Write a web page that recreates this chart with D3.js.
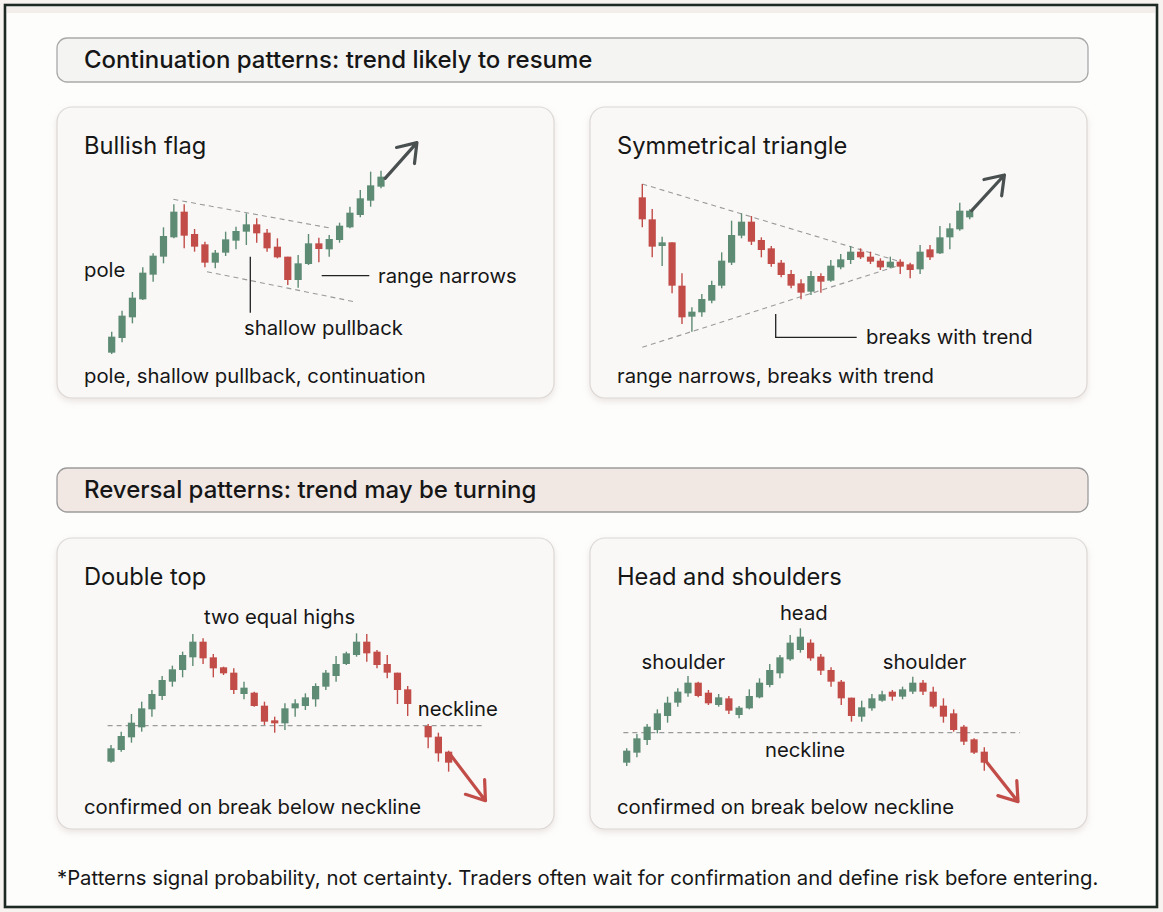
<!DOCTYPE html>
<html>
<head>
<meta charset="utf-8">
<script src="https://cdn.jsdelivr.net/npm/d3@7/dist/d3.min.js"></script>
<style>
  html, body { margin: 0; padding: 0; background: #ffffff; }
  svg { display: block; }
  text { font-family: Inter, "Noto Sans", sans-serif; fill: #161616; }
</style>
</head>
<body>
<svg id="chart" width="1163" height="912"></svg>
<script>
// ---------------- DATA ----------------
// Candles: [open, high, low, close] (arbitrary price units)
const flagCandles = [
  [2.2, 8.5, 1.8, 7.0], [6.6, 14.8, 5.3, 13.3], [12.8, 20.4, 11.0, 18.7], [18.2, 27.8, 18.0, 26.2],
  [25.6, 32.0, 23.5, 31.3], [31.0, 39.8, 29.0, 37.2], [36.8, 46.7, 36.5, 44.5], [44.5, 46.7, 33.5, 37.3],
  [37.8, 39.3, 32.5, 34.0], [34.7, 35.5, 27.8, 29.2], [29.2, 33.0, 27.5, 32.2], [32.2, 38.5, 31.2, 36.2],
  [35.8, 40.0, 33.2, 38.7], [38.5, 44.0, 34.5, 40.7], [40.7, 42.5, 35.2, 38.0], [38.2, 39.3, 32.5, 33.5],
  [34.0, 36.5, 30.5, 30.8], [31.0, 31.0, 22.5, 24.0], [24.0, 31.5, 21.7, 29.0], [28.8, 37.8, 28.5, 35.0],
  [35.0, 36.7, 29.3, 33.3], [33.2, 37.5, 31.0, 36.3], [36.0, 41.2, 35.2, 40.3], [39.8, 46.0, 39.5, 44.2],
  [43.5, 51.0, 42.8, 48.5], [47.8, 56.5, 46.0, 52.4], [52.0, 56.8, 51.5, 55.0]
];
const triangleCandles = [
  [48.8, 52.8, 39.8, 42.2], [42.2, 45.3, 30.8, 34.0], [34.2, 37.0, 28.2, 35.3], [35.3, 35.3, 20.0, 22.3],
  [22.3, 26.0, 10.8, 12.8], [13.0, 15.8, 8.5, 14.5], [14.3, 19.8, 13.0, 18.3], [17.8, 23.8, 17.0, 22.5],
  [22.3, 32.3, 21.5, 29.8], [29.2, 41.8, 28.5, 37.5], [37.3, 44.0, 36.5, 41.5], [41.5, 43.2, 34.5, 35.5],
  [36.0, 36.8, 30.8, 33.0], [33.5, 34.2, 28.0, 28.8], [29.2, 30.0, 24.8, 25.5], [25.8, 27.0, 21.5, 22.3],
  [23.0, 24.2, 18.2, 20.2], [20.5, 26.7, 19.5, 25.2], [25.2, 26.0, 20.2, 23.5], [23.8, 30.0, 23.5, 28.3],
  [27.8, 31.8, 27.2, 30.2], [30.0, 34.2, 28.8, 32.5], [32.5, 33.5, 30.3, 30.8], [31.0, 32.5, 28.8, 29.5],
  [29.8, 30.5, 27.0, 27.8], [27.8, 31.0, 27.5, 29.5], [29.5, 30.2, 25.8, 28.0], [28.7, 29.2, 24.5, 27.0],
  [27.2, 34.5, 25.8, 32.5], [33.2, 34.5, 30.0, 30.8], [32.0, 40.2, 31.8, 36.8], [36.8, 41.0, 33.2, 39.5],
  [39.2, 47.2, 38.8, 44.8], [42.8, 45.2, 42.2, 44.8]
];
// Double top: index 30 is left empty (gap behind the "neckline" label)
const doubleTopIndex = [0,1,2,3,4,5,6,7,8,9,10,11,12,13,14,15,16,17,18,19,20,21,22,23,24,25,26,27,28,29,31,32,33];
const doubleTopCandles = [
  [8.5, 13.5, 8.2, 12.5], [12.0, 17.5, 11.5, 16.2], [15.8, 22.8, 14.2, 20.2], [18.8, 26.5, 17.5, 24.5],
  [24.2, 30.0, 22.0, 28.8], [28.2, 34.2, 27.0, 33.0], [32.5, 37.3, 31.0, 36.2], [36.0, 41.5, 33.8, 40.5],
  [39.8, 46.8, 37.2, 44.5], [44.5, 45.5, 37.8, 39.5], [39.8, 40.8, 33.8, 36.5], [36.8, 37.0, 34.5, 35.0],
  [35.2, 36.5, 28.8, 30.0], [28.8, 32.5, 27.2, 30.7], [29.2, 29.5, 25.0, 25.2], [25.3, 26.5, 19.5, 20.5],
  [20.9, 22.0, 17.2, 20.0], [20.0, 26.0, 18.0, 24.5], [24.5, 27.2, 22.0, 26.0], [25.2, 29.0, 24.0, 27.8],
  [27.2, 32.0, 25.0, 31.2], [31.0, 36.0, 30.0, 35.2], [34.2, 40.2, 32.5, 37.8], [37.8, 41.5, 37.5, 41.0],
  [40.5, 47.0, 40.0, 44.5], [44.5, 46.8, 38.5, 41.0], [41.5, 42.0, 36.5, 37.5], [37.8, 40.5, 33.5, 35.2],
  [35.2, 35.2, 25.8, 30.0], [30.2, 31.2, 22.2, 25.8], [19.2, 19.8, 12.5, 15.8], [16.0, 17.2, 8.5, 11.0],
  [11.5, 11.8, 5.5, 8.2]
];
const headShouldersCandles = [
  [8.2, 12.5, 7.2, 11.8], [11.2, 16.8, 9.8, 15.5], [15.0, 19.8, 13.5, 19.0], [18.0, 24.2, 17.0, 23.0],
  [22.2, 28.0, 20.2, 26.2], [26.2, 30.5, 25.0, 29.5], [29.0, 34.2, 28.0, 32.2], [32.2, 32.5, 27.8, 28.2],
  [29.2, 30.0, 25.5, 26.0], [25.5, 28.8, 25.0, 27.8], [27.5, 28.2, 22.8, 23.8], [22.5, 25.2, 21.5, 24.7],
  [24.5, 30.2, 24.2, 28.2], [27.8, 33.5, 27.5, 32.2], [31.5, 37.8, 30.8, 36.0], [35.0, 40.5, 33.5, 39.8],
  [39.2, 46.5, 38.8, 44.2], [42.0, 48.5, 41.2, 46.0], [44.2, 45.2, 38.8, 39.5], [40.0, 40.8, 34.5, 35.8],
  [36.0, 36.8, 31.0, 32.5], [32.5, 33.0, 25.5, 27.5], [27.7, 27.7, 20.5, 22.2], [22.0, 26.8, 20.5, 24.8],
  [24.5, 28.8, 23.8, 27.5], [26.8, 29.8, 26.5, 28.7], [29.5, 30.0, 26.8, 28.0], [28.0, 31.0, 27.2, 30.2],
  [29.5, 34.0, 28.8, 32.2], [32.2, 33.0, 28.5, 29.5], [29.5, 31.0, 24.5, 25.0], [25.3, 27.5, 20.2, 22.0],
  [23.0, 24.2, 17.5, 18.0], [19.0, 19.5, 13.5, 14.5], [15.2, 15.5, 10.8, 11.2], [11.5, 12.8, 5.8, 8.2]
];

// Guide lines: [[index, price], [index, price]]
const flagUpper = [[5.95, 48.2], [21.26, 39.5]];
const flagLower = [[9.2, 26.5], [23.4, 17.5]];
const triangleUpper = [[0, 52.8], [26.0, 29.5]];
const triangleLower = [[0, 3.8], [26.0, 28.5]];
const doubleTopNeck = [[-0.33, 19.3], [36.5, 19.3]];
const headShouldersNeck = [[-0.33, 17.2], [38.5, 17.2]];

// Trend arrows: [[index, price], [index, price]]
const flagArrow = [[26.4, 54.5], [29.47, 65.2]];
const triangleArrow = [[33.2, 44.8], [36.5, 55.5]];
const doubleTopArrow = [[33.2, 10.5], [36.6, -3.2]];
const headShouldersArrow = [[35.2, 8.5], [38.3, -3.5]];

// Texts
const sectionTitles = ["Continuation patterns: trend likely to resume", "Reversal patterns: trend may be turning"];
const panelTitles = ["Bullish flag", "Symmetrical triangle", "Double top", "Head and shoulders"];
const panelCaptions = ["pole, shallow pullback, continuation", "range narrows, breaks with trend",
                       "confirmed on break below neckline", "confirmed on break below neckline"];
const footnote = "*Patterns signal probability, not certainty. Traders often wait for confirmation and define risk before entering.";

// ---------------- DRAW ----------------
const UP = "#5e8b73", DOWN = "#c24c47";
const svg = d3.select("#chart");

const defs = svg.append("defs");
const f = defs.append("filter").attr("id", "shadow").attr("x", "-5%").attr("y", "-5%").attr("width", "110%").attr("height", "120%");
f.append("feDropShadow").attr("dx", 0).attr("dy", 3).attr("stdDeviation", 3)
  .attr("flood-color", "#b9a49a").attr("flood-opacity", 0.28);

// page background & frame
svg.append("rect").attr("x", 0).attr("y", 0).attr("width", 1163).attr("height", 912).attr("fill", "#f7f3f0");
svg.append("rect").attr("x", 5).attr("y", 5).attr("width", 1152).attr("height", 902)
  .attr("fill", "#fdfdfc").attr("stroke", "#1d2a23").attr("stroke-width", 2.6);
svg.append("rect").attr("x", 7).attr("y", 7).attr("width", 1148).attr("height", 6).attr("fill", "#f3eeea");

// section headers
const headers = [
  {y: 38, fill: "#f4f4f2", stroke: "#a9a9a9", title: sectionTitles[0]},
  {y: 468, fill: "#f1e8e4", stroke: "#9c9c9c", title: sectionTitles[1]}
];
headers.forEach(h => {
  svg.append("rect").attr("x", 57).attr("y", h.y).attr("width", 1031).attr("height", 44).attr("rx", 10)
    .attr("fill", h.fill).attr("stroke", h.stroke).attr("stroke-width", 1.3);
  svg.append("text").attr("x", 84).attr("y", h.y + 22).attr("dy", "0.35em")
    .attr("font-size", 24).attr("font-weight", 500).text(h.title);
});

// panels
const panels = [
  {x0: 57, y0: 107, candles: flagCandles, idx: null, xr: [111.7, 381], xd: [0, 26], yr: [360, 160],
   guides: [flagUpper, flagLower], arrow: flagArrow, arrowColor: "#4a5050"},
  {x0: 590, y0: 107, candles: triangleCandles, idx: null, xr: [642.3, 969.7], xd: [0, 33], yr: [360, 160],
   guides: [triangleUpper, triangleLower], arrow: triangleArrow, arrowColor: "#4a5050"},
  {x0: 57, y0: 538, candles: doubleTopCandles, idx: doubleTopIndex, xr: [111, 407.7], xd: [0, 29], yr: [790, 590],
   guides: [doubleTopNeck], arrow: doubleTopArrow, arrowColor: DOWN},
  {x0: 590, y0: 538, candles: headShouldersCandles, idx: null, xr: [626.7, 984.3], xd: [0, 35], yr: [790, 590],
   guides: [headShouldersNeck], arrow: headShouldersArrow, arrowColor: DOWN}
];

panels.forEach((p, pi) => {
  const g = svg.append("g");
  g.append("rect").attr("x", p.x0).attr("y", p.y0).attr("width", 497).attr("height", 291).attr("rx", 15)
    .attr("fill", "#f9f8f7").attr("stroke", "#dcd8d5").attr("stroke-width", 1.2).attr("filter", "url(#shadow)");
  g.append("text").attr("x", p.x0 + 27).attr("y", p.y0 + 39).attr("dy", "0.35em")
    .attr("font-size", 23.7).text(panelTitles[pi]);
  g.append("text").attr("x", p.x0 + 27).attr("y", p.y0 + 269).attr("dy", "0.35em")
    .attr("font-size", 20.3).text(panelCaptions[pi]);

  const x = d3.scaleLinear().domain(p.xd).range(p.xr);
  const y = d3.scaleLinear().domain([0, 60]).range(p.yr);

  // guides
  p.guides.forEach(gl => {
    g.append("line").attr("x1", x(gl[0][0])).attr("y1", y(gl[0][1]))
      .attr("x2", x(gl[1][0])).attr("y2", y(gl[1][1]))
      .attr("stroke", "#9a9a9a").attr("stroke-width", 1.1).attr("stroke-dasharray", "5,4");
  });

  // candles
  const data = p.candles.map((c, i) => ({i: p.idx ? p.idx[i] : i, o: c[0], h: c[1], l: c[2], c: c[3]}));
  const cg = g.selectAll("g.candle").data(data).enter().append("g");
  cg.append("line").attr("x1", d => x(d.i)).attr("x2", d => x(d.i))
    .attr("y1", d => y(d.h)).attr("y2", d => y(d.l))
    .attr("stroke", d => d.c >= d.o ? UP : DOWN).attr("stroke-width", 1.4);
  cg.append("rect").attr("x", d => x(d.i) - 3.6).attr("width", 7.2)
    .attr("y", d => y(Math.max(d.o, d.c)))
    .attr("height", d => Math.max(2.5, Math.abs(y(d.o) - y(d.c))))
    .attr("fill", d => d.c >= d.o ? UP : DOWN);

  // arrow
  const [a0, a1] = p.arrow;
  const sx = x(a0[0]), sy = y(a0[1]), tx = x(a1[0]), ty = y(a1[1]);
  const ang = Math.atan2(sy - ty, sx - tx);
  const L = 21, spread = 35 * Math.PI / 180;
  const h1 = [tx + L * Math.cos(ang + spread), ty + L * Math.sin(ang + spread)];
  const h2 = [tx + L * Math.cos(ang - spread), ty + L * Math.sin(ang - spread)];
  g.append("path")
    .attr("d", `M${sx},${sy}L${tx},${ty}M${h1[0]},${h1[1]}L${tx},${ty}L${h2[0]},${h2[1]}`)
    .attr("fill", "none").attr("stroke", p.arrowColor).attr("stroke-width", 3.2)
    .attr("stroke-linecap", "round").attr("stroke-linejoin", "round");
});

// annotations
const ann = svg.append("g");
function label(x, y, t, anchor) {
  ann.append("text").attr("x", x).attr("y", y).attr("dy", "0.35em").attr("text-anchor", anchor || "start")
    .attr("font-size", 20.3).text(t);
}
function leader(pts) {
  ann.append("path").attr("d", d3.line()(pts)).attr("fill", "none").attr("stroke", "#222").attr("stroke-width", 1.3);
}
// bullish flag
label(84, 270, "pole");
leader([[250.3, 256.7], [250.3, 312.7]]);
label(244, 328, "shallow pullback");
leader([[321.7, 275.7], [369.3, 275.7]]);
label(378, 275.7, "range narrows");
// triangle
leader([[775.7, 314], [775.7, 337.3], [856.7, 337.3]]);
label(866, 336.7, "breaks with trend");
// double top
label(204, 616.7, "two equal highs");
label(417.7, 709.3, "neckline");
// head and shoulders
label(803.8, 612.7, "head", "middle");
label(683.3, 661.7, "shoulder", "middle");
label(924.5, 661.7, "shoulder", "middle");
label(805, 750, "neckline", "middle");

// footnote
svg.append("text").attr("x", 57).attr("y", 878).attr("dy", "0.35em")
  .attr("font-size", 20.3).text(footnote);
</script>
</body>
</html>
